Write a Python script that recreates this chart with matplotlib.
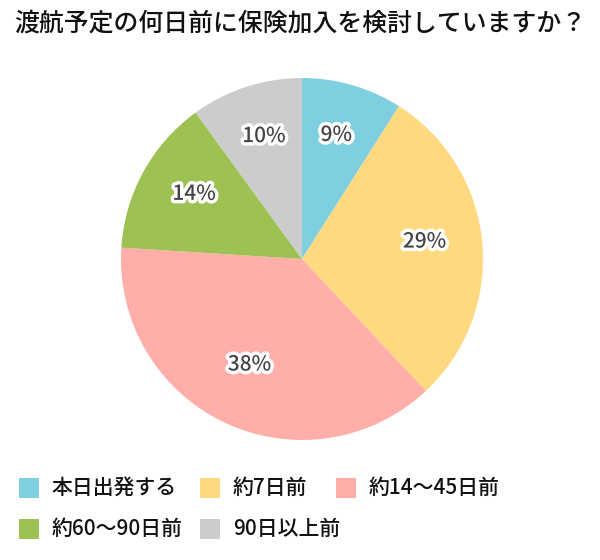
import matplotlib.pyplot as plt
import matplotlib.patheffects as pe
from matplotlib.patches import Rectangle
from matplotlib.transforms import ScaledTranslation

plt.rcParams["font.family"] = ["Noto Sans CJK JP", "DejaVu Sans"]

title = "渡航予定の何日前に保険加入を検討していますか？"
categories = ["本日出発する", "約7日前", "約14〜45日前", "約60〜90日前", "90日以上前"]
shares = [9, 29, 38, 14, 10]
colors = ["#7ecfe0", "#ffd97f", "#ffaeaa", "#9dc152", "#cccccc"]

W, H = 600, 560
fig = plt.figure(figsize=(W / 100, H / 100), dpi=100)

fig.text(300 / W, 1 - 24 / H, title, ha="center", va="center",
         fontsize=17.9, fontweight="medium", color="#111111")

# pie: centre (302, 259) px, radius 181 px
cx, cy, r = 302, 259, 181
ax = fig.add_axes([(cx - r) / W, (H - cy - r) / H, 2 * r / W, 2 * r / H])
wedges, texts = ax.pie(
    shares, colors=colors, startangle=90, counterclock=False,
    labels=[f"{v}%" for v in shares], labeldistance=0.68,
    wedgeprops=dict(linewidth=0),
    textprops=dict(fontsize=15, fontweight="medium", color="#444444",
                   ha="center", va="center_baseline"),
)
# labels sit a little higher than the wedge midpoint in the original
lift = ScaledTranslation(0, 6 / 72, fig.dpi_scale_trans)
for t in texts:
    t.set_transform(ax.transData + lift)
    t.set_path_effects([pe.withStroke(linewidth=5, foreground="white")])
ax.set_xlim(-1, 1)
ax.set_ylim(-1, 1)
ax.set_aspect("equal")
ax.axis("off")

# legend, laid out in rows like the original
slots = [(19, 488), (200, 488), (336, 488), (19, 529), (200, 529)]
box = 20
for (x, y), lab, c in zip(slots, categories, colors):
    fig.patches.append(Rectangle((x / W, 1 - (y + box / 2) / H), box / W, box / H,
                                 transform=fig.transFigure, facecolor=c,
                                 edgecolor="none"))
    fig.text((x + box + 13) / W, 1 - y / H, lab, ha="left", va="center",
             fontsize=15, fontweight="medium", color="#111111")

fig.savefig("out.png", dpi=100, facecolor="white")
